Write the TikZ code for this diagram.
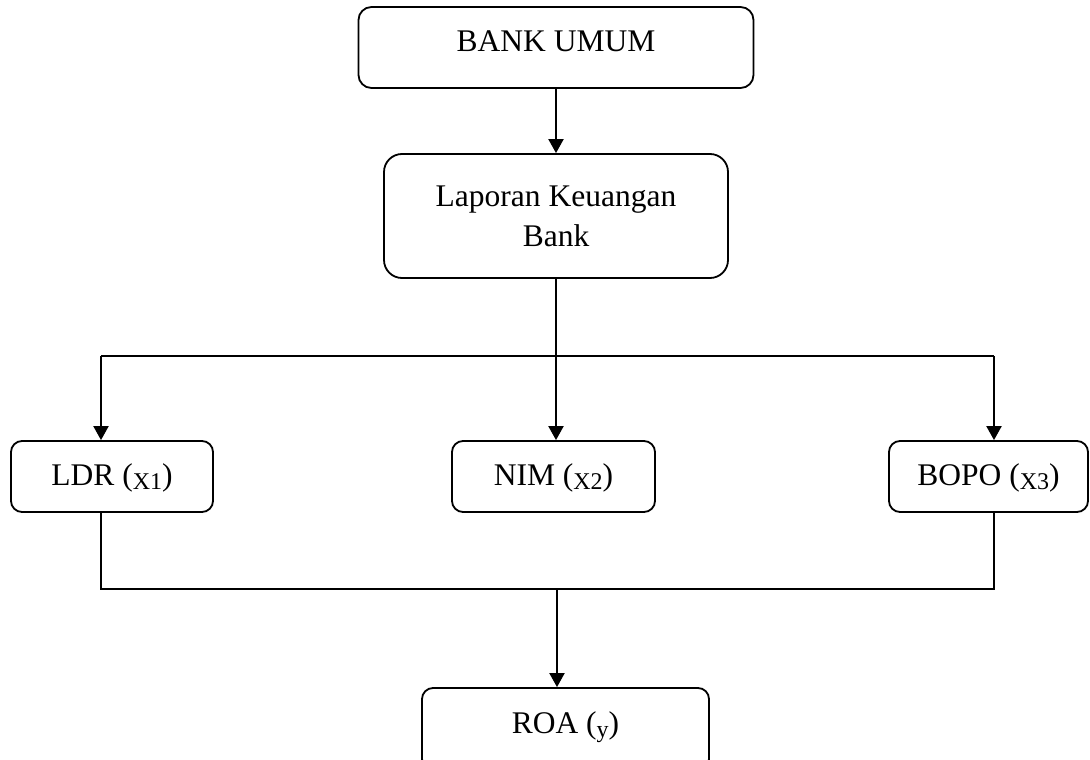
\documentclass[tikz,border=0pt]{standalone}
\usepackage{fontspec}
\setmainfont{Liberation Serif}
\usetikzlibrary{arrows.meta}
\newcommand\mysub[1]{\raisebox{-4pt}{\fontsize{24}{24}\selectfont #1}}
\begin{document}
\begin{tikzpicture}[x=1pt,y=-1pt,
 box/.style={draw, line width=1.8pt, rounded corners=11pt, inner sep=0pt,
   font=\fontsize{31.5}{40}\selectfont, align=center},
 small/.style={box, text height=44pt, text depth=27pt},
 arr/.style={line width=2pt, -{Triangle[length=14pt,width=15pt]}},
 ln/.style={line width=1.6pt}]
\useasboundingbox (0,0) rectangle (1090,760);
\node[box, minimum width=395pt, text height=45pt, text depth=36pt, rounded corners=13pt] (bank) at (556,47.5) {BANK UMUM};
\node[box, minimum width=344pt, minimum height=124pt, rounded corners=18pt] (lap) at (556,216) {Laporan Keuangan\\Bank};
\node[small, minimum width=202pt] (ldr) at (112,476.5) {LDR (\mysub{X1})};
\node[small, minimum width=203pt] (nim) at (553.5,476.5) {NIM (\mysub{X2})};
\node[small, minimum width=199pt] (bopo) at (988.5,476.5) {BOPO (\mysub{X3})};
\node[box, minimum width=287pt, text height=45pt, text depth=37pt] (roa) at (565.5,729) {ROA (\mysub{y})};
\coordinate (c1) at (101,356);
\coordinate (c2) at (556,356);
\coordinate (c3) at (994,356);
\coordinate (d1) at (101,589);
\coordinate (d2) at (557,589);
\coordinate (d3) at (994,589);
\draw[arr] (bank.south) -- (lap.north);
\draw[ln] (lap.south) -- (c2);
\draw[ln] (c1) -- (c3);
\draw[arr] (c1) -- (c1 |- ldr.north);
\draw[arr] (c2) -- (c2 |- nim.north);
\draw[arr] (c3) -- (c3 |- bopo.north);
\draw[ln] (d1 |- ldr.south) -- (d1) -- (d3) -- (d3 |- bopo.south);
\draw[arr] (d2) -- (d2 |- roa.north);
\end{tikzpicture}
\end{document}
